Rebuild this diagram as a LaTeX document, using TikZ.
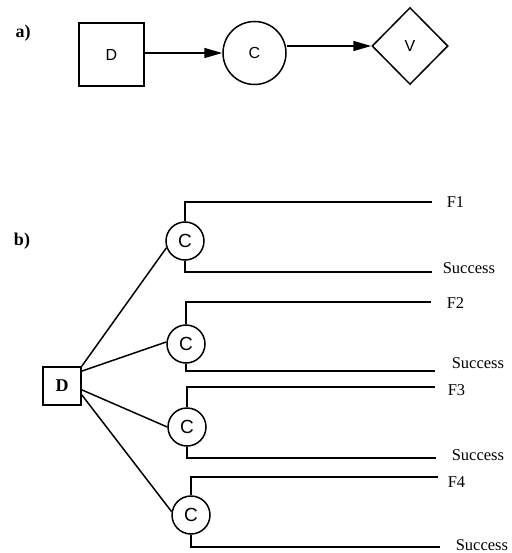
\documentclass[tikz,border=0pt]{standalone}
\usepackage{fontspec}
\setmainfont{Liberation Serif}
\setsansfont{Liberation Sans}
\usetikzlibrary{shapes.geometric,arrows.meta}
\begin{document}
\begin{tikzpicture}[x=1pt,y=-1pt,line width=1.5pt,
  boxa/.style={draw,rectangle,minimum width=65pt,minimum height=63pt,inner sep=0pt,font=\sffamily\fontsize{16}{16}\selectfont},
  chancea/.style={draw,circle,minimum size=63pt,inner sep=0pt,font=\sffamily\fontsize{16}{16}\selectfont},
  valuea/.style={draw,diamond,minimum width=76pt,minimum height=77pt,inner sep=0pt,font=\sffamily\fontsize{16}{16}\selectfont},
  boxb/.style={draw,rectangle,minimum size=38pt,inner sep=0pt,font=\bfseries\fontsize{18}{18}\selectfont},
  chanceb/.style={draw,circle,minimum size=38pt,inner sep=0pt,font=\sffamily\fontsize{19}{19}\selectfont},
  outlbl/.style={anchor=west,inner sep=0pt,font=\fontsize{16.5}{16.5}\selectfont},
  partlbl/.style={inner sep=0pt,font=\bfseries\fontsize{18}{18}\selectfont},
  arr/.style={-{Triangle[length=18pt,width=10pt]}}]
\useasboundingbox (0,0) rectangle (511,553);
% part a
\node[partlbl] (la) at (23,33) {a)};
\node[boxa] (Da) at (111.5,54.5) {D};
\node[chancea] (Ca) at (254.5,53) {C};
\node[valuea] (Va) at (410,46) {V};
\draw[arr] (Da.east |- Ca.west) -- (Ca.west);
\draw[arr] (Ca.east |- Va.west) -- (Va.west);
% part b
\node[partlbl] (lb) at (22,241) {b)};
\node[boxb] (Db) at (62,386) {D};
\node[chanceb] (C1) at (185,241) {C};
\node[chanceb] (C2) at (186,344) {C};
\node[chanceb] (C3) at (187,427) {C};
\node[chanceb] (C4) at (191,515) {C};
\coordinate (e1) at (432,202);
\coordinate (s1) at (432,272);
\coordinate (e2) at (431,302);
\coordinate (s2) at (435,371);
\coordinate (e3) at (435,387);
\coordinate (s3) at (436,458);
\coordinate (e4) at (438,477);
\coordinate (s4) at (440,547);
\draw (Db.45) -- (C1.200);
\draw (Db.37) -- (C2.174);
\draw (Db.-11) -- (C3.180);
\draw (Db.-24) -- (C4.170);
\draw (C1.north) |- (e1);
\draw (C1.south) |- (s1);
\draw (C2.north) |- (e2);
\draw (C2.south) |- (s2);
\draw (C3.north) |- (e3);
\draw (C3.south) |- (s3);
\draw (C4.north) |- (e4);
\draw (C4.south) |- (s4);
\node[outlbl] (f1) at (446,202) {F1};
\node[outlbl] (o1) at (442,268) {Success};
\node[outlbl] (f2) at (446,303) {F2};
\node[outlbl] (o2) at (451,363) {Success};
\node[outlbl] (f3) at (447,390) {F3};
\node[outlbl] (o3) at (451,455) {Success};
\node[outlbl] (f4) at (447,482) {F4};
\node[outlbl] (o4) at (455,545) {Success};
\end{tikzpicture}
\end{document}
